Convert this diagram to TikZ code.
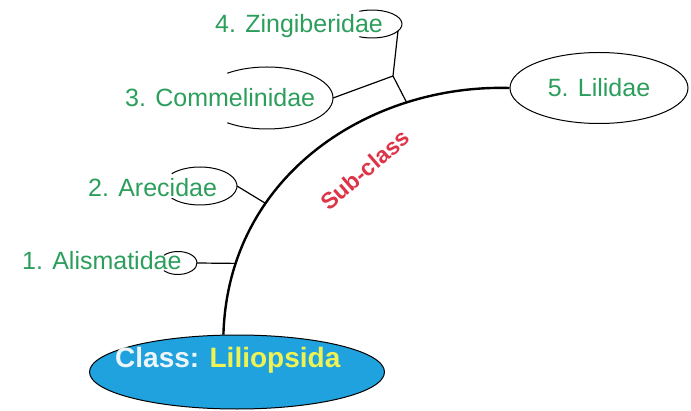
\documentclass[tikz,border=0pt]{standalone}
\usepackage{fontspec}
\setmainfont{Liberation Sans}
\usetikzlibrary{shapes.geometric}
\definecolor{leafgreen}{RGB}{44,158,92}
\definecolor{subred}{RGB}{222,52,72}
\definecolor{classblue}{RGB}{32,162,222}
\definecolor{classyellow}{RGB}{238,242,84}
\definecolor{classwhite}{RGB}{236,246,250}

\begin{document}
\begin{tikzpicture}
[x=1pt,y=1pt,%
  every node/.style={inner sep=0pt},%
  taxon/.style={anchor=base west,text=leafgreen,font=\fontsize{25}{28}\selectfont},%
  rim/.style={line width=1pt},%
  twig/.style={line width=1.2pt},%
  stem/.style={line width=2.4pt}]
\useasboundingbox (0,0) rectangle (691,410);
\node[ellipse,draw,line width=1pt,fill=classblue,minimum width=295pt,minimum height=74pt] (cls) at (237,38) {};
\node[anchor=base west,font=\bfseries\fontsize{28}{32}\selectfont] (clsname) at (115,43)
  {\textcolor{classwhite}{Class:} \textcolor{classyellow}{Liliopsida}};
\node[ellipse,draw,line width=1pt,minimum width=178pt,minimum height=71pt,
  text=leafgreen,font=\fontsize{25}{28}\selectfont] (lil) at (599,322) {5. Lilidae};
\node[taxon] (ali) at (22,140) {1. Alismatidae};
\node[taxon] (are) at (88,213) {2. Arecidae};
\node[taxon] (com) at (125,303) {3. Commelinidae};
\node[taxon] (zin) at (215,377) {4. Zingiberidae};
\node[text=subred,font=\bfseries\fontsize{23}{26}\selectfont,rotate=41] (sub) at (365,240) {Sub-class};
\coordinate (o1) at (178,147);
\coordinate (o2) at (200,224);
\coordinate (o3) at (267,312);
\coordinate (o4) at (372,386);
\draw[rim] (o1) ++(138:19 and 11.5) arc[start angle=138,end angle=-138,x radius=19,y radius=11.5];
\draw[rim] (o2) ++(140:37 and 19) arc[start angle=140,end angle=-140,x radius=37,y radius=19];
\draw[rim] (o3) ++(127:66 and 31) arc[start angle=127,end angle=-127,x radius=66,y radius=31];
\draw[rim] (o4) ++(115:30 and 14) arc[start angle=115,end angle=-115,x radius=30,y radius=14];
\path (o1) ++(0:19 and 11.5) coordinate (t1);
\path (o2) ++(0:37 and 19) coordinate (t2);
\path (o3) ++(0:66 and 31) coordinate (t3);
\path (o4) ++(-30:30 and 14) coordinate (t4);
\coordinate (fork) at (393,334);
\draw[stem] (cls.110) .. controls (228,235) and (370,326) ..
  coordinate[pos=0.16] (j1) coordinate[pos=0.32] (j2) coordinate[pos=0.75] (j3) (lil.west);
\draw[twig] (t1) -- (j1);
\draw[twig] (t2) -- (j2);
\draw[twig] (t3) -- (fork);
\draw[twig] (t4) -- (fork) -- (j3);
\end{tikzpicture}
\end{document}
